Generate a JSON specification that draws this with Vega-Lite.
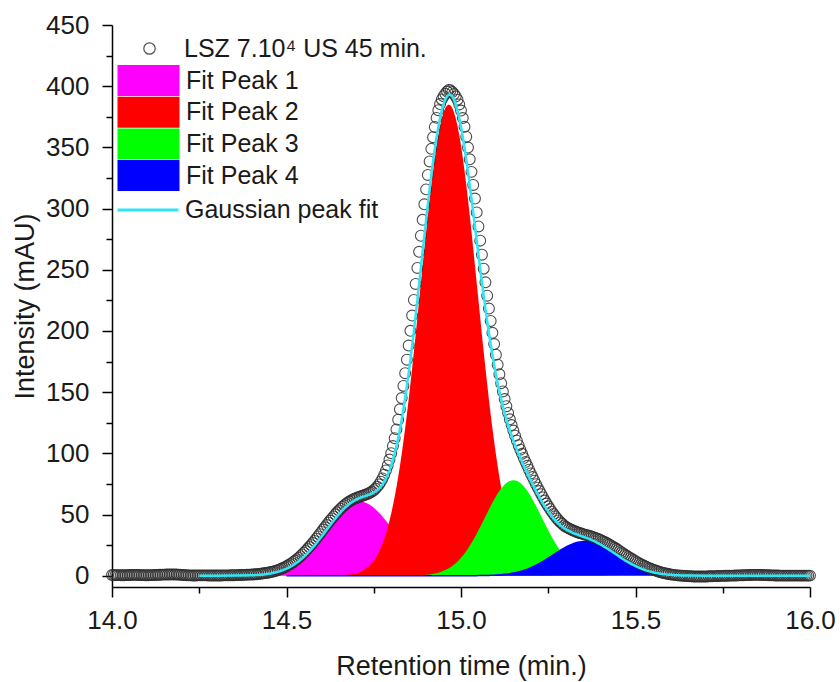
{
"$schema": "https://vega.github.io/schema/vega-lite/v6.json",
"width": 698, "height": 562,
"autosize": {"type": "none"},
"padding": {"left": 112, "top": 25, "right": 30, "bottom": 95},
"config": {"view": {"stroke": null}, "font": "Liberation Sans", "axis": {"grid": false}},
"data": {"values": [
{"t":14,"obs":0.6},{"t":14.005,"obs":0.6},{"t":14.01,"obs":0.5},{"t":14.015,"obs":0.5},{"t":14.02,"obs":0.5},{"t":14.025,"obs":0.4},{"t":14.03,"obs":0.4},{"t":14.035,"obs":0.4},{"t":14.04,"obs":0.5},{"t":14.045,"obs":0.5},{"t":14.05,"obs":0.6},{"t":14.055,"obs":0.6},{"t":14.06,"obs":0.7},{"t":14.065,"obs":0.7},{"t":14.07,"obs":0.7},{"t":14.075,"obs":0.6},{"t":14.08,"obs":0.6},{"t":14.085,"obs":0.5},{"t":14.09,"obs":0.5},{"t":14.095,"obs":0.4},{"t":14.1,"obs":0.4},{"t":14.105,"obs":0.4},{"t":14.11,"obs":0.5},{"t":14.115,"obs":0.5},{"t":14.12,"obs":0.6},{"t":14.125,"obs":0.6},{"t":14.13,"obs":0.7},{"t":14.135,"obs":0.8},{"t":14.14,"obs":0.8},{"t":14.145,"obs":0.9},{"t":14.15,"obs":0.9},{"t":14.155,"obs":1},{"t":14.16,"obs":1},{"t":14.165,"obs":1},{"t":14.17,"obs":1.1},{"t":14.175,"obs":1.1},{"t":14.18,"obs":1},{"t":14.185,"obs":1},{"t":14.19,"obs":0.9},{"t":14.195,"obs":0.8},{"t":14.2,"obs":0.7},{"t":14.205,"obs":0.6},{"t":14.21,"obs":0.5},{"t":14.215,"obs":0.4},{"t":14.22,"obs":0.3},{"t":14.225,"obs":0.3},{"t":14.23,"obs":0.2},{"t":14.235,"obs":0.2},{"t":14.24,"obs":0.2},{"t":14.245,"obs":0.3},{"t":14.25,"obs":0.3,"fit":0},{"t":14.255,"obs":0.3},{"t":14.26,"obs":0.3},{"t":14.265,"obs":0.3},{"t":14.27,"obs":0.3},{"t":14.275,"obs":0.2},{"t":14.28,"obs":0.2},{"t":14.285,"obs":0.2},{"t":14.29,"obs":0.2},{"t":14.295,"obs":0.2},{"t":14.3,"obs":0.2,"fit":0},{"t":14.305,"obs":0.2},{"t":14.31,"obs":0.2},{"t":14.315,"obs":0.2},{"t":14.32,"obs":0.3},{"t":14.325,"obs":0.3},{"t":14.33,"obs":0.3},{"t":14.335,"obs":0.3},{"t":14.34,"obs":0.4},{"t":14.345,"obs":0.4},{"t":14.35,"obs":0.4,"fit":0.1},{"t":14.355,"obs":0.5},{"t":14.36,"obs":0.5},{"t":14.365,"obs":0.6},{"t":14.37,"obs":0.6},{"t":14.375,"obs":0.7},{"t":14.38,"obs":0.7},{"t":14.385,"obs":0.8},{"t":14.39,"obs":0.9},{"t":14.395,"obs":0.9},
{"t":14.4,"obs":1,"fit":0.4,"p1":0.37},
{"t":14.405,"obs":1.1,"fit":0.4,"p1":0.43},
{"t":14.41,"obs":1.2,"fit":0.5,"p1":0.51},
{"t":14.415,"obs":1.3,"fit":0.6,"p1":0.59},
{"t":14.42,"obs":1.4,"fit":0.7,"p1":0.69},
{"t":14.425,"obs":1.6,"fit":0.8,"p1":0.81},
{"t":14.43,"obs":1.8,"fit":0.9,"p1":0.94},
{"t":14.435,"obs":2,"fit":1.1,"p1":1.09},
{"t":14.44,"obs":2.2,"fit":1.3,"p1":1.26},
{"t":14.445,"obs":2.4,"fit":1.5,"p1":1.45},
{"t":14.45,"obs":2.7,"fit":1.7,"p1":1.67},
{"t":14.455,"obs":3,"fit":1.9,"p1":1.91},
{"t":14.46,"obs":3.3,"fit":2.2,"p1":2.18},
{"t":14.465,"obs":3.7,"fit":2.5,"p1":2.49},
{"t":14.47,"obs":4.1,"fit":2.8,"p1":2.83},
{"t":14.475,"obs":4.6,"fit":3.2,"p1":3.22},
{"t":14.48,"obs":5.1,"fit":3.6,"p1":3.64},
{"t":14.485,"obs":5.7,"fit":4.1,"p1":4.11},
{"t":14.49,"obs":6.3,"fit":4.6,"p1":4.62},
{"t":14.495,"obs":7,"fit":5.2,"p1":5.19},
{"t":14.5,"obs":7.7,"fit":5.8,"p1":5.81,"p4":0},
{"t":14.505,"obs":8.5,"fit":6.5,"p1":6.49,"p4":0},
{"t":14.51,"obs":9.4,"fit":7.2,"p1":7.22,"p4":0},
{"t":14.515,"obs":10.3,"fit":8,"p1":8.02,"p4":0},
{"t":14.52,"obs":11.3,"fit":8.9,"p1":8.88,"p4":0},
{"t":14.525,"obs":12.4,"fit":9.8,"p1":9.81,"p4":0},
{"t":14.53,"obs":13.5,"fit":10.8,"p1":10.81,"p4":0},
{"t":14.535,"obs":14.7,"fit":11.9,"p1":11.88,"p4":0},
{"t":14.54,"obs":16,"fit":13,"p1":13.03,"p4":0},
{"t":14.545,"obs":17.4,"fit":14.2,"p1":14.24,"p4":0},
{"t":14.55,"obs":18.8,"fit":15.5,"p1":15.52,"p4":0},
{"t":14.555,"obs":20.2,"fit":16.9,"p1":16.88,"p4":0},
{"t":14.56,"obs":21.8,"fit":18.3,"p1":18.3,"p4":0},
{"t":14.565,"obs":23.4,"fit":19.8,"p1":19.79,"p4":0},
{"t":14.57,"obs":25,"fit":21.4,"p1":21.35,"p4":0},
{"t":14.575,"obs":26.7,"fit":23,"p1":22.97,"p4":0},
{"t":14.58,"obs":28.5,"fit":24.6,"p1":24.64,"p4":0},
{"t":14.585,"obs":30.3,"fit":26.4,"p1":26.37,"p4":0},
{"t":14.59,"obs":32.1,"fit":28.2,"p1":28.15,"p4":0},
{"t":14.595,"obs":33.9,"fit":30,"p1":29.96,"p4":0},
{"t":14.6,"obs":35.8,"fit":31.8,"p1":31.81,"p4":0},
{"t":14.605,"obs":37.7,"fit":33.7,"p1":33.68,"p4":0},
{"t":14.61,"obs":39.6,"fit":35.6,"p1":35.56,"p4":0},
{"t":14.615,"obs":41.4,"fit":37.5,"p1":37.45,"p4":0},
{"t":14.62,"obs":43.3,"fit":39.4,"p1":39.34,"p4":0},
{"t":14.625,"obs":45.1,"fit":41.3,"p1":41.21,"p4":0},
{"t":14.63,"obs":46.8,"fit":43.2,"p1":43.06,"p4":0},
{"t":14.635,"obs":48.5,"fit":45,"p1":44.87,"p4":0},
{"t":14.64,"obs":50.2,"fit":46.8,"p1":46.63,"p4":0},
{"t":14.645,"obs":51.8,"fit":48.5,"p1":48.33,"p4":0},
{"t":14.65,"obs":53.4,"fit":50.2,"p1":49.97,"p4":0},
{"t":14.655,"obs":54.8,"fit":51.8,"p1":51.52,"p4":0},
{"t":14.66,"obs":56.2,"fit":53.4,"p1":52.97,"p4":0},
{"t":14.665,"obs":57.4,"fit":54.8,"p1":54.33,"p2":0.48,"p4":0},
{"t":14.67,"obs":58.6,"fit":56.2,"p1":55.57,"p2":0.6,"p4":0},
{"t":14.675,"obs":59.7,"fit":57.4,"p1":56.69,"p2":0.74,"p4":0},
{"t":14.68,"obs":60.6,"fit":58.6,"p1":57.67,"p2":0.92,"p4":0},
{"t":14.685,"obs":61.5,"fit":59.7,"p1":58.52,"p2":1.13,"p4":0},
{"t":14.69,"obs":62.3,"fit":60.6,"p1":59.23,"p2":1.39,"p4":0},
{"t":14.695,"obs":62.9,"fit":61.5,"p1":59.78,"p2":1.7,"p4":0},
{"t":14.7,"obs":63.6,"fit":62.3,"p1":60.18,"p2":2.08,"p4":0},
{"t":14.705,"obs":64.1,"fit":62.9,"p1":60.42,"p2":2.52,"p4":0},
{"t":14.71,"obs":64.6,"fit":63.6,"p1":60.5,"p2":3.06,"p4":0},
{"t":14.715,"obs":65.1,"fit":64.1,"p1":60.42,"p2":3.69,"p4":0},
{"t":14.72,"obs":65.6,"fit":64.6,"p1":60.18,"p2":4.44,"p4":0},
{"t":14.725,"obs":66.1,"fit":65.1,"p1":59.78,"p2":5.31,"p4":0},
{"t":14.73,"obs":66.6,"fit":65.6,"p1":59.23,"p2":6.34,"p4":0},
{"t":14.735,"obs":67.2,"fit":66.1,"p1":58.52,"p2":7.53,"p4":0},
{"t":14.74,"obs":68,"fit":66.6,"p1":57.67,"p2":8.92,"p4":0},
{"t":14.745,"obs":68.8,"fit":67.2,"p1":56.69,"p2":10.5,"p4":0},
{"t":14.75,"obs":69.9,"fit":68,"p1":55.57,"p2":12.4,"p4":0},
{"t":14.755,"obs":71.2,"fit":68.8,"p1":54.33,"p2":14.5,"p4":0},
{"t":14.76,"obs":72.8,"fit":69.9,"p1":52.97,"p2":16.9,"p4":0},
{"t":14.765,"obs":74.6,"fit":71.2,"p1":51.52,"p2":19.7,"p4":0},
{"t":14.77,"obs":76.8,"fit":72.8,"p1":49.97,"p2":22.8,"p4":0},
{"t":14.775,"obs":79.5,"fit":74.6,"p1":48.33,"p2":26.3,"p4":0},
{"t":14.78,"obs":82.6,"fit":76.8,"p1":46.63,"p2":30.2,"p4":0},
{"t":14.785,"obs":86.1,"fit":79.5,"p1":44.87,"p2":34.6,"p4":0},
{"t":14.79,"obs":90.1,"fit":82.6,"p1":43.06,"p2":39.5,"p4":0},
{"t":14.795,"obs":94.9,"fit":86.1,"p1":41.21,"p2":44.9,"p4":0},
{"t":14.8,"obs":100.1,"fit":90.1,"p1":39.34,"p2":50.8,"p4":0},
{"t":14.805,"obs":106,"fit":94.9,"p1":37.45,"p2":57.4,"p4":0},
{"t":14.81,"obs":112.4,"fit":100.1,"p1":35.56,"p2":64.5,"p4":0},
{"t":14.815,"obs":119.6,"fit":106,"p1":33.68,"p2":72.3,"p4":0},
{"t":14.82,"obs":127.5,"fit":112.4,"p1":31.81,"p2":80.6,"p4":0},
{"t":14.825,"obs":136,"fit":119.6,"p1":29.96,"p2":89.6,"p4":0},
{"t":14.83,"obs":145.2,"fit":127.5,"p1":28.15,"p2":99.3,"p4":0},
{"t":14.835,"obs":155.1,"fit":136,"p1":26.37,"p2":109.6,"p4":0},
{"t":14.84,"obs":165.5,"fit":145.2,"p1":24.64,"p2":120.5,"p4":0},
{"t":14.845,"obs":176.5,"fit":155.1,"p1":22.97,"p2":132,"p4":0},
{"t":14.85,"obs":188.1,"fit":165.5,"p1":21.35,"p2":144,"p3":0.1,"p4":0},
{"t":14.855,"obs":200.1,"fit":176.5,"p1":19.79,"p2":156.6,"p3":0.12,"p4":0},
{"t":14.86,"obs":212.6,"fit":188.1,"p1":18.3,"p2":169.6,"p3":0.15,"p4":0},
{"t":14.865,"obs":225.3,"fit":200.1,"p1":16.88,"p2":183,"p3":0.19,"p4":0},
{"t":14.87,"obs":238.4,"fit":212.6,"p1":15.52,"p2":196.8,"p3":0.23,"p4":0},
{"t":14.875,"obs":251.5,"fit":225.3,"p1":14.24,"p2":210.8,"p3":0.28,"p4":0},
{"t":14.88,"obs":264.7,"fit":238.4,"p1":13.03,"p2":225,"p3":0.34,"p4":0},
{"t":14.885,"obs":277.8,"fit":251.5,"p1":11.88,"p2":239.2,"p3":0.42,"p4":0},
{"t":14.89,"obs":290.8,"fit":264.7,"p1":10.81,"p2":253.4,"p3":0.51,"p4":0},
{"t":14.895,"obs":303.5,"fit":277.8,"p1":9.81,"p2":267.4,"p3":0.62,"p4":0},
{"t":14.9,"obs":315.7,"fit":290.8,"p1":8.88,"p2":281.2,"p3":0.75,"p4":0},
{"t":14.905,"obs":327.5,"fit":303.5,"p1":8.02,"p2":294.6,"p3":0.9,"p4":0},
{"t":14.91,"obs":338.5,"fit":315.7,"p1":7.22,"p2":307.4,"p3":1.08,"p4":0},
{"t":14.915,"obs":348.8,"fit":327.5,"p1":6.49,"p2":319.7,"p3":1.28,"p4":0},
{"t":14.92,"obs":358.3,"fit":338.5,"p1":5.81,"p2":331.2,"p3":1.53,"p4":0},
{"t":14.925,"obs":366.7,"fit":348.8,"p1":5.19,"p2":341.8,"p3":1.81,"p4":0},
{"t":14.93,"obs":374.1,"fit":358.3,"p1":4.62,"p2":351.5,"p3":2.13,"p4":0},
{"t":14.935,"obs":380.4,"fit":366.7,"p1":4.11,"p2":360.1,"p3":2.51,"p4":0},
{"t":14.94,"obs":385.4,"fit":374.1,"p1":3.64,"p2":367.5,"p3":2.94,"p4":0},
{"t":14.945,"obs":389.2,"fit":380.4,"p1":3.22,"p2":373.7,"p3":3.43,"p4":0},
{"t":14.95,"obs":391.8,"fit":385.4,"p1":2.83,"p2":378.6,"p3":3.98,"p4":0},
{"t":14.955,"obs":393.8,"fit":389.2,"p1":2.49,"p2":382.1,"p3":4.61,"p4":0},
{"t":14.96,"obs":395.6,"fit":391.8,"p1":2.18,"p2":384.3,"p3":5.32,"p4":0},
{"t":14.965,"obs":397,"fit":393,"p1":1.91,"p2":385,"p3":6.12,"p4":0},
{"t":14.97,"obs":396.6,"fit":393,"p1":1.67,"p2":384.3,"p3":7.01,"p4":0},
{"t":14.975,"obs":395.2,"fit":391.6,"p1":1.45,"p2":382.1,"p3":8,"p4":0},
{"t":14.98,"obs":393.6,"fit":389,"p1":1.26,"p2":378.6,"p3":9.09,"p4":0},
{"t":14.985,"obs":391.6,"fit":385.1,"p1":1.09,"p2":373.7,"p3":10.3,"p4":0},
{"t":14.99,"obs":389,"fit":380.1,"p1":0.94,"p2":367.5,"p3":11.62,"p4":0},
{"t":14.995,"obs":385.1,"fit":374,"p1":0.81,"p2":360.1,"p3":13.07,"p4":0},
{"t":15,"obs":380.1,"fit":366.8,"p1":0.69,"p2":351.5,"p3":14.64,"p4":0},
{"t":15.005,"obs":374,"fit":358.7,"p1":0.59,"p2":341.8,"p3":16.34,"p4":0},
{"t":15.01,"obs":366.8,"fit":349.9,"p1":0.51,"p2":331.2,"p3":18.16,"p4":0},
{"t":15.015,"obs":358.7,"fit":340.3,"p1":0.43,"p2":319.7,"p3":20.12,"p4":0},
{"t":15.02,"obs":349.9,"fit":330,"p1":0.37,"p2":307.4,"p3":22.2,"p4":0},
{"t":15.025,"obs":340.3,"fit":319.3,"p1":0.31,"p2":294.6,"p3":24.41,"p4":0},
{"t":15.03,"obs":330,"fit":308.2,"p1":0.26,"p2":281.2,"p3":26.73,"p4":0.05},
{"t":15.035,"obs":319.3,"fit":296.9,"p1":0.22,"p2":267.4,"p3":29.17,"p4":0.06},
{"t":15.04,"obs":308.2,"fit":285.4,"p1":0.19,"p2":253.4,"p3":31.72,"p4":0.07},
{"t":15.045,"obs":296.9,"fit":273.8,"p1":0.16,"p2":239.2,"p3":34.36,"p4":0.08},
{"t":15.05,"obs":285.4,"fit":262.3,"p1":0.13,"p2":225,"p3":37.08,"p4":0.1},
{"t":15.055,"obs":273.8,"fit":250.9,"p2":210.8,"p3":39.87,"p4":0.12},
{"t":15.06,"obs":262.3,"fit":239.8,"p2":196.8,"p3":42.71,"p4":0.15},
{"t":15.065,"obs":250.9,"fit":228.8,"p2":183,"p3":45.58,"p4":0.17},
{"t":15.07,"obs":239.8,"fit":218.3,"p2":169.6,"p3":48.46,"p4":0.21},
{"t":15.075,"obs":228.8,"fit":208.2,"p2":156.6,"p3":51.34,"p4":0.25},
{"t":15.08,"obs":218.3,"fit":198.5,"p2":144,"p3":54.18,"p4":0.29},
{"t":15.085,"obs":208.2,"fit":189.3,"p2":132,"p3":56.97,"p4":0.34},
{"t":15.09,"obs":198.5,"fit":180.6,"p2":120.5,"p3":59.68,"p4":0.4},
{"t":15.095,"obs":189.3,"fit":172.4,"p2":109.6,"p3":62.29,"p4":0.47},
{"t":15.1,"obs":180.6,"fit":164.6,"p2":99.3,"p3":64.77,"p4":0.55},
{"t":15.105,"obs":172.4,"fit":157.3,"p2":89.6,"p3":67.1,"p4":0.64},
{"t":15.11,"obs":164.6,"fit":150.6,"p2":80.6,"p3":69.25,"p4":0.75},
{"t":15.115,"obs":157.3,"fit":144.4,"p2":72.3,"p3":71.21,"p4":0.86},
{"t":15.12,"obs":150.6,"fit":138.5,"p2":64.5,"p3":72.95,"p4":1},
{"t":15.125,"obs":144.4,"fit":133,"p2":57.4,"p3":74.46,"p4":1.15},
{"t":15.13,"obs":138.5,"fit":127.8,"p2":50.8,"p3":75.71,"p4":1.32},
{"t":15.135,"obs":133,"fit":123.1,"p2":44.9,"p3":76.71,"p4":1.51},
{"t":15.14,"obs":127.8,"fit":118.6,"p2":39.5,"p3":77.42,"p4":1.72},
{"t":15.145,"obs":123.1,"fit":114.4,"p2":34.6,"p3":77.85,"p4":1.95},
{"t":15.15,"obs":118.6,"fit":110.4,"p2":30.2,"p3":78,"p4":2.21},
{"t":15.155,"obs":114.4,"fit":106.7,"p2":26.3,"p3":77.85,"p4":2.5},
{"t":15.16,"obs":110.4,"fit":103,"p2":22.8,"p3":77.42,"p4":2.82},
{"t":15.165,"obs":106.7,"fit":99.6,"p2":19.7,"p3":76.71,"p4":3.17},
{"t":15.17,"obs":103,"fit":96.2,"p2":16.9,"p3":75.71,"p4":3.55},
{"t":15.175,"obs":99.6,"fit":92.9,"p2":14.5,"p3":74.46,"p4":3.96},
{"t":15.18,"obs":96.2,"fit":89.8,"p2":12.4,"p3":72.95,"p4":4.41},
{"t":15.185,"obs":92.9,"fit":86.6,"p2":10.5,"p3":71.21,"p4":4.89},
{"t":15.19,"obs":89.8,"fit":83.6,"p2":8.92,"p3":69.25,"p4":5.41},
{"t":15.195,"obs":86.6,"fit":80.6,"p2":7.53,"p3":67.1,"p4":5.97},
{"t":15.2,"obs":83.6,"fit":77.7,"p2":6.34,"p3":64.77,"p4":6.56},
{"t":15.205,"obs":80.6,"fit":74.8,"p2":5.31,"p3":62.29,"p4":7.2},
{"t":15.21,"obs":77.7,"fit":72,"p2":4.44,"p3":59.68,"p4":7.87},
{"t":15.215,"obs":74.8,"fit":69.2,"p2":3.69,"p3":56.97,"p4":8.57},
{"t":15.22,"obs":72,"fit":66.6,"p2":3.06,"p3":54.18,"p4":9.32},
{"t":15.225,"obs":69.2,"fit":64,"p2":2.52,"p3":51.34,"p4":10.09},
{"t":15.23,"obs":66.6,"fit":61.4,"p2":2.08,"p3":48.46,"p4":10.9},
{"t":15.235,"obs":64,"fit":59,"p2":1.7,"p3":45.58,"p4":11.74},
{"t":15.24,"obs":61.4,"fit":56.7,"p2":1.39,"p3":42.71,"p4":12.6},
{"t":15.245,"obs":59,"fit":54.5,"p2":1.13,"p3":39.87,"p4":13.49},
{"t":15.25,"obs":56.7,"fit":52.4,"p2":0.92,"p3":37.08,"p4":14.39},
{"t":15.255,"obs":54.5,"fit":50.4,"p2":0.74,"p3":34.36,"p4":15.31},
{"t":15.26,"obs":52.4,"fit":48.6,"p2":0.6,"p3":31.72,"p4":16.24},
{"t":15.265,"obs":50.4,"fit":46.8,"p2":0.48,"p3":29.17,"p4":17.17},
{"t":15.27,"obs":48.6,"fit":45.2,"p3":26.73,"p4":18.1},
{"t":15.275,"obs":46.8,"fit":43.7,"p3":24.41,"p4":19.03},
{"t":15.28,"obs":45.2,"fit":42.4,"p3":22.2,"p4":19.94},
{"t":15.285,"obs":43.7,"fit":41.1,"p3":20.12,"p4":20.83},
{"t":15.29,"obs":42.4,"fit":40,"p3":18.16,"p4":21.7},
{"t":15.295,"obs":41.1,"fit":39,"p3":16.34,"p4":22.53},
{"t":15.3,"obs":40,"fit":38.1,"p3":14.64,"p4":23.33},
{"t":15.305,"obs":39.3,"fit":37.2,"p3":13.07,"p4":24.08},
{"t":15.31,"obs":38.5,"fit":36.5,"p3":11.62,"p4":24.78},
{"t":15.315,"obs":37.7,"fit":35.8,"p3":10.3,"p4":25.42},
{"t":15.32,"obs":37.1,"fit":35.1,"p3":9.09,"p4":26},
{"t":15.325,"obs":36.5,"fit":34.5,"p3":8,"p4":26.52},
{"t":15.33,"obs":35.9,"fit":34,"p3":7.01,"p4":26.96},
{"t":15.335,"obs":35.4,"fit":33.5,"p3":6.12,"p4":27.33},
{"t":15.34,"obs":35,"fit":32.9,"p3":5.32,"p4":27.62},
{"t":15.345,"obs":34.5,"fit":32.4,"p3":4.61,"p4":27.83},
{"t":15.35,"obs":34,"fit":31.9,"p3":3.98,"p4":27.96},
{"t":15.355,"obs":33.6,"fit":31.4,"p3":3.43,"p4":28},
{"t":15.36,"obs":33.2,"fit":30.9,"p3":2.94,"p4":27.96},
{"t":15.365,"obs":32.8,"fit":30.3,"p3":2.51,"p4":27.83},
{"t":15.37,"obs":32.4,"fit":29.8,"p3":2.13,"p4":27.62},
{"t":15.375,"obs":31.9,"fit":29.1,"p3":1.81,"p4":27.33},
{"t":15.38,"obs":31.5,"fit":28.5,"p3":1.53,"p4":26.96},
{"t":15.385,"obs":30.9,"fit":27.8,"p3":1.28,"p4":26.52},
{"t":15.39,"obs":30.4,"fit":27.1,"p3":1.08,"p4":26},
{"t":15.395,"obs":29.8,"fit":26.3,"p3":0.9,"p4":25.42},
{"t":15.4,"obs":29.2,"fit":25.5,"p3":0.75,"p4":24.78},
{"t":15.405,"obs":28.5,"fit":24.7,"p3":0.62,"p4":24.08},
{"t":15.41,"obs":27.8,"fit":23.8,"p3":0.51,"p4":23.33},
{"t":15.415,"obs":27.1,"fit":23,"p3":0.42,"p4":22.53},
{"t":15.42,"obs":26.3,"fit":22,"p3":0.34,"p4":21.7},
{"t":15.425,"obs":25.5,"fit":21.1,"p3":0.28,"p4":20.83},
{"t":15.43,"obs":24.6,"fit":20.2,"p3":0.23,"p4":19.94},
{"t":15.435,"obs":23.8,"fit":19.2,"p3":0.19,"p4":19.03},
{"t":15.44,"obs":23,"fit":18.3,"p3":0.15,"p4":18.1},
{"t":15.445,"obs":22,"fit":17.3,"p3":0.12,"p4":17.17},
{"t":15.45,"obs":21.1,"fit":16.3,"p3":0.1,"p4":16.24},
{"t":15.455,"obs":20.1,"fit":15.4,"p4":15.31},
{"t":15.46,"obs":19.1,"fit":14.4,"p4":14.39},
{"t":15.465,"obs":18.2,"fit":13.5,"p4":13.49},
{"t":15.47,"obs":17.2,"fit":12.6,"p4":12.6},
{"t":15.475,"obs":16.3,"fit":11.8,"p4":11.74},
{"t":15.48,"obs":15.4,"fit":10.9,"p4":10.9},
{"t":15.485,"obs":14.5,"fit":10.1,"p4":10.09},
{"t":15.49,"obs":13.6,"fit":9.3,"p4":9.32},
{"t":15.495,"obs":12.7,"fit":8.6,"p4":8.57},
{"t":15.5,"obs":11.9,"fit":7.9,"p4":7.87},
{"t":15.505,"obs":11.1,"fit":7.2,"p4":7.2},
{"t":15.51,"obs":10.3,"fit":6.6,"p4":6.56},
{"t":15.515,"obs":9.5,"fit":6,"p4":5.97},
{"t":15.52,"obs":8.8,"fit":5.4,"p4":5.41},
{"t":15.525,"obs":8.1,"fit":4.9,"p4":4.89},
{"t":15.53,"obs":7.4,"fit":4.4,"p4":4.41},
{"t":15.535,"obs":6.8,"fit":4,"p4":3.96},
{"t":15.54,"obs":6.1,"fit":3.6,"p4":3.55},
{"t":15.545,"obs":5.6,"fit":3.2,"p4":3.17},
{"t":15.55,"obs":5,"fit":2.8,"p4":2.82},
{"t":15.555,"obs":4.5,"fit":2.5,"p4":2.5},
{"t":15.56,"obs":4,"fit":2.2,"p4":2.21},
{"t":15.565,"obs":3.5,"fit":2,"p4":1.95},
{"t":15.57,"obs":3.1,"fit":1.7,"p4":1.72},
{"t":15.575,"obs":2.7,"fit":1.5,"p4":1.51},
{"t":15.58,"obs":2.3,"fit":1.3,"p4":1.32},
{"t":15.585,"obs":2,"fit":1.2,"p4":1.15},
{"t":15.59,"obs":1.7,"fit":1,"p4":1},
{"t":15.595,"obs":1.4,"fit":0.9,"p4":0.86},
{"t":15.6,"obs":1.1,"fit":0.8,"p4":0.75},
{"t":15.605,"obs":0.9,"fit":0.6,"p4":0.64},
{"t":15.61,"obs":0.7,"fit":0.55,"p4":0.55},
{"t":15.615,"obs":0.5,"fit":0.47,"p4":0.47},
{"t":15.62,"obs":0.3,"fit":0.4,"p4":0.4},
{"t":15.625,"obs":0.2,"fit":0.34,"p4":0.34},
{"t":15.63,"obs":0.1,"fit":0.29,"p4":0.29},
{"t":15.635,"obs":0,"fit":0.25,"p4":0.25},
{"t":15.64,"obs":-0.1,"fit":0.21,"p4":0.21},
{"t":15.645,"obs":-0.2,"fit":0.17,"p4":0.17},
{"t":15.65,"obs":-0.3,"fit":0.15,"p4":0.15},
{"t":15.655,"obs":-0.4},{"t":15.66,"obs":-0.5},{"t":15.665,"obs":-0.6},{"t":15.67,"obs":-0.6},{"t":15.675,"obs":-0.7},{"t":15.68,"obs":-0.7},{"t":15.685,"obs":-0.7},{"t":15.69,"obs":-0.7},{"t":15.695,"obs":-0.7},{"t":15.7,"obs":-0.6,"fit":0.02},{"t":15.705,"obs":-0.6},{"t":15.71,"obs":-0.5},{"t":15.715,"obs":-0.5},{"t":15.72,"obs":-0.4},{"t":15.725,"obs":-0.3},{"t":15.73,"obs":-0.3},{"t":15.735,"obs":-0.2},{"t":15.74,"obs":-0.2},{"t":15.745,"obs":-0.1},{"t":15.75,"obs":-0.1},{"t":15.755,"obs":0},{"t":15.76,"obs":0},{"t":15.765,"obs":0},{"t":15.77,"obs":0.1},{"t":15.775,"obs":0.1},{"t":15.78,"obs":0.1},{"t":15.785,"obs":0.2},{"t":15.79,"obs":0.2},{"t":15.795,"obs":0.3},{"t":15.8,"obs":0.3,"fit":0},{"t":15.805,"obs":0.4},{"t":15.81,"obs":0.4},{"t":15.815,"obs":0.5},{"t":15.82,"obs":0.5},{"t":15.825,"obs":0.6},{"t":15.83,"obs":0.6},{"t":15.835,"obs":0.7},{"t":15.84,"obs":0.7},{"t":15.845,"obs":0.7},{"t":15.85,"obs":0.7},{"t":15.855,"obs":0.7},{"t":15.86,"obs":0.6},{"t":15.865,"obs":0.6},{"t":15.87,"obs":0.5},{"t":15.875,"obs":0.5},{"t":15.88,"obs":0.4},{"t":15.885,"obs":0.4},{"t":15.89,"obs":0.3},{"t":15.895,"obs":0.3},{"t":15.9,"obs":0.2,"fit":0},{"t":15.905,"obs":0.2},{"t":15.91,"obs":0.2},{"t":15.915,"obs":0.1},{"t":15.92,"obs":0.1},{"t":15.925,"obs":0.1},{"t":15.93,"obs":0.1},{"t":15.935,"obs":0.1},{"t":15.94,"obs":0.1},{"t":15.945,"obs":0.1},{"t":15.95,"obs":0.1},{"t":15.955,"obs":0.1},{"t":15.96,"obs":0.1},{"t":15.965,"obs":0.1},{"t":15.97,"obs":0.1},{"t":15.975,"obs":0.1},{"t":15.98,"obs":0.1},{"t":15.985,"obs":0.1},{"t":15.99,"obs":0.1},{"t":15.995,"obs":0.1},{"t":16,"obs":0.1,"fit":0}
]},
"resolve": {"axis": {"x": "independent", "y": "independent"}},
"layer": [
{
"transform": [{"filter": "isValid(datum.p1)"}],
"mark": {"type": "area", "opacity": 1},
"encoding": {
"x": {"field": "t", "type": "quantitative", "scale": {"domain": [14, 16], "nice": false, "zero": false},
"axis": {"orient": "bottom", "values": [14, 14.5, 15, 15.5, 16], "format": ".1f", "title": "Retention time (min.)", "labelFontSize": 26, "titleFontSize": 27, "titleFontWeight": "normal", "tickSize": 10, "tickWidth": 1.5, "domainWidth": 1.5, "domainColor": "#000", "tickColor": "#000", "labelColor": "#1a1a1a", "titleColor": "#1a1a1a", "labelPadding": 10, "titleY": 87, "titleBaseline": "alphabetic", "labelFlush": false, "labelOverlap": false, "grid": false}},
"y": {"field": "p1", "type": "quantitative", "stack": null, "scale": {"domain": [-9.2, 450], "nice": false, "zero": false},
"axis": {"orient": "left", "values": [0, 50, 100, 150, 200, 250, 300, 350, 400, 450], "title": "Intensity (mAU)", "labelFontSize": 26, "titleFontSize": 27, "titleFontWeight": "normal", "tickSize": 10, "tickWidth": 1.5, "domainWidth": 1.5, "domainColor": "#000", "tickColor": "#000", "labelColor": "#1a1a1a", "titleColor": "#1a1a1a", "labelPadding": 13, "titleX": -87, "titleY": 281, "titleAngle": -90, "titleAlign": "center", "titleBaseline": "middle", "labelFlush": false, "labelOverlap": false, "grid": false}},
"fill": {"datum": "Fit Peak 1", "scale": {"domain": ["Fit Peak 1", "Fit Peak 2", "Fit Peak 3", "Fit Peak 4"], "range": ["#FF00FF", "#FF0000", "#00FF00", "#0000FF"]},
"legend": {"orient": "none", "legendX": 21, "legendY": 40, "title": null, "symbolType": "M-2,-1H2V1H-2Z", "symbolSize": 961, "symbolStrokeWidth": 0, "symbolOpacity": 1, "labelFontSize": 25, "labelFont": "Liberation Sans", "labelColor": "#1a1a1a", "labelOffset": 22, "rowPadding": 0.7, "labelLimit": 400}}
}
},
{
"transform": [{"filter": "isValid(datum.p2)"}],
"mark": {"type": "area", "opacity": 1},
"encoding": {
"x": {"field": "t", "type": "quantitative", "axis": {"orient": "bottom", "values": [14.25, 14.75, 15.25, 15.75], "labels": false, "domain": false, "title": null, "tickSize": 6, "tickWidth": 1.5, "tickColor": "#000", "grid": false}},
"y": {"field": "p2", "type": "quantitative", "stack": null, "axis": {"orient": "left", "values": [25, 75, 125, 175, 225, 275, 325, 375, 425], "labels": false, "domain": false, "title": null, "tickSize": 6, "tickWidth": 1.5, "tickColor": "#000", "grid": false}},
"fill": {"datum": "Fit Peak 2"}
}
},
{
"transform": [{"filter": "isValid(datum.p3)"}],
"mark": {"type": "area", "opacity": 1},
"encoding": {
"x": {"field": "t", "type": "quantitative", "axis": null},
"y": {"field": "p3", "type": "quantitative", "stack": null, "axis": null},
"fill": {"datum": "Fit Peak 3"}
}
},
{
"transform": [{"filter": "isValid(datum.p4)"}],
"mark": {"type": "area", "opacity": 1},
"encoding": {
"x": {"field": "t", "type": "quantitative", "axis": null},
"y": {"field": "p4", "type": "quantitative", "stack": null, "axis": null},
"fill": {"datum": "Fit Peak 4"}
}
},
{
"transform": [{"filter": "isValid(datum.p4) && datum.t <= 15.6"}],
"mark": {"type": "line", "color": "#0000FF", "strokeWidth": 1.5},
"encoding": {
"x": {"field": "t", "type": "quantitative", "axis": null},
"y": {"field": "p4", "type": "quantitative", "axis": null}
}
},
{
"mark": {"type": "point", "filled": false, "size": 118, "strokeWidth": 1.1, "color": "#2e2e2e", "opacity": 0.85},
"encoding": {
"x": {"field": "t", "type": "quantitative", "axis": null},
"y": {"field": "obs", "type": "quantitative", "axis": null},
"shape": {"datum": "LSZ 7.10⁴ US 45 min.", "scale": {"range": ["circle"]},
"legend": {"orient": "none", "legendX": 25, "legendY": 11, "title": null, "symbolSize": 130, "symbolStrokeColor": "#333333", "symbolFillColor": "transparent", "symbolStrokeWidth": 1.2, "labelFontSize": 25, "labelFont": "Liberation Sans", "labelColor": "#1a1a1a", "labelOffset": 22, "labelLimit": 400}}
}
},
{
"transform": [{"filter": "isValid(datum.fit)"}],
"mark": {"type": "line", "strokeWidth": 2.5},
"encoding": {
"x": {"field": "t", "type": "quantitative", "axis": null},
"y": {"field": "fit", "type": "quantitative", "axis": null},
"stroke": {"datum": "Gaussian peak fit", "scale": {"range": ["#2EE6F5"]},
"legend": {"orient": "none", "legendX": 4, "legendY": 153, "title": null, "symbolType": "stroke", "symbolSize": 3721, "symbolStrokeWidth": 3, "labelFontSize": 25, "labelFont": "Liberation Sans", "labelColor": "#1a1a1a", "labelOffset": 5, "labelLimit": 400}}
}
}
]
}
